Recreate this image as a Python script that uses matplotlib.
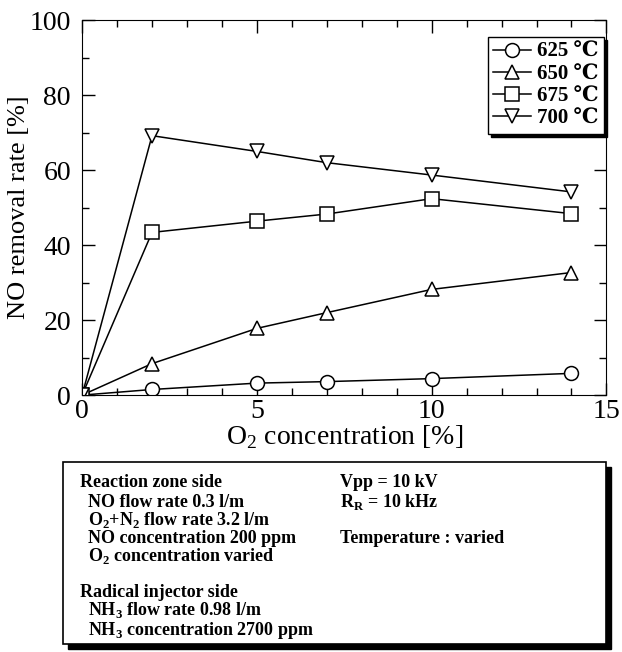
import matplotlib
matplotlib.use("Agg")
import matplotlib.pyplot as plt
from matplotlib.patches import Rectangle
from matplotlib.ticker import MultipleLocator

plt.rcParams['font.family'] = ['Liberation Serif', 'DejaVu Serif']
plt.rcParams['mathtext.fontset'] = 'custom'
plt.rcParams['mathtext.rm'] = 'Liberation Serif'
plt.rcParams['mathtext.bf'] = 'Liberation Serif:bold'

# data
o2 = [0, 2, 5, 7, 10, 14]
t625 = [0, 1.5, 3.2, 3.6, 4.4, 5.8]
t650 = [0, 8.4, 17.8, 22.0, 28.2, 32.7]
t675 = [0, 43.4, 46.4, 48.3, 52.4, 48.4]
t700 = [0, 69.2, 65.0, 62.0, 58.7, 54.2]
labels = ["625 ℃", "650 ℃", "675 ℃", "700 ℃"]
markers = ["o", "^", "s", "v"]

fig = plt.figure(figsize=(6.22, 6.52), dpi=100)
ax = fig.add_axes([0.132, 0.394, 0.843, 0.575])

for ys, m, lab in zip([t625, t650, t675, t700], markers, labels):
    ax.plot(o2, ys, marker=m, color="black", lw=1.1, markersize=10,
            markerfacecolor="white", markeredgewidth=1.1, label=lab)

ax.set_xlim(0, 15)
ax.set_ylim(0, 100)
ax.xaxis.set_major_locator(MultipleLocator(5))
ax.xaxis.set_minor_locator(MultipleLocator(1))
ax.yaxis.set_major_locator(MultipleLocator(20))
ax.yaxis.set_minor_locator(MultipleLocator(10))
ax.tick_params(which="both", direction="in", top=True, right=True, labelsize=20)
ax.tick_params(which="major", length=9, width=1)
ax.tick_params(which="minor", length=5, width=1)
ax.tick_params(axis="y", pad=8)
ax.tick_params(axis="x", pad=3)
ax.set_xlabel("O$_2$ concentration [%]", fontsize=20, labelpad=-1)
ax.set_ylabel("NO removal rate [%]", fontsize=19, labelpad=0)

leg = ax.legend(loc="upper right", bbox_to_anchor=(0.995, 0.955), fancybox=False,
                shadow={"color": "black", "alpha": 1}, edgecolor="black",
                prop={"weight": "bold", "size": 15}, handlelength=1.8,
                handletextpad=0.3, borderpad=0.25, labelspacing=0.1,
                borderaxespad=0.0, framealpha=1)
leg.get_frame().set_linewidth(1)

# condition box
bx, by, bw, bh = 0.101, 0.013, 0.873, 0.278
fig.patches.append(Rectangle((bx + 0.008, by - 0.008), bw, bh, transform=fig.transFigure,
                             facecolor="black", edgecolor="black"))
fig.patches.append(Rectangle((bx, by), bw, bh, transform=fig.transFigure,
                             facecolor="white", edgecolor="black", lw=1.2))

box_lines = [
    (80, 487, "Reaction zone side"),
    (88, 507, "NO flow rate 0.3 l/m"),
    (88, 525, "O$_\\mathbf{2}$+N$_\\mathbf{2}$ flow rate 3.2 l/m"),
    (88, 543, "NO concentration 200 ppm"),
    (88, 561, "O$_\\mathbf{2}$ concentration varied"),
    (80, 597, "Radical injector side"),
    (88, 615, "NH$_\\mathbf{3}$ flow rate 0.98 l/m"),
    (88, 635, "NH$_\\mathbf{3}$ concentration 2700 ppm"),
    (340, 487, "Vpp = 10 kV"),
    (340, 507, "R$_\\mathbf{R}$ = 10 kHz"),
    (340, 543, "Temperature : varied"),
]
for px, py, s in box_lines:
    fig.text(px / 622, 1 - py / 652, s, fontsize=13, fontweight="bold",
             ha="left", va="baseline")

fig.savefig("out.png", dpi=100)
